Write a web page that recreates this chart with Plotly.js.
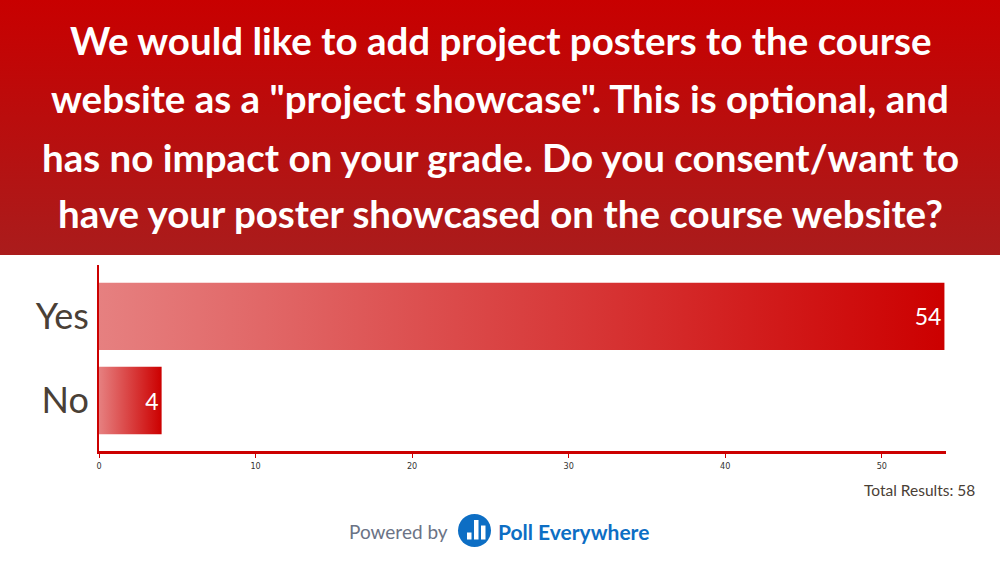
<!DOCTYPE html>
<html>
<head>
<meta charset="utf-8">
<script src="https://cdn.plot.ly/plotly-3.0.1.min.js"></script>
<style>
  html, body { margin: 0; padding: 0; background: #ffffff; }
  #chart {
    width: 1000px; height: 562px;
    background: linear-gradient(to bottom, #c80000 0px, #aa1c1c 255px) 0 0 / 100% 255px no-repeat, #ffffff;
  }
</style>
</head>
<body>
<div id="chart"></div>
<script>
// ---- Data ----
const categories = ['Yes', 'No'];
const values = [54, 4];
const totalResults = 58;
const titleLines = [
  'We would like to add project posters to the course',
  'website as a "project showcase". This is optional, and',
  'has no impact on your grade. Do you consent/want to',
  'have your poster showcased on the course website?'
];
const xTickVals = [0, 10, 20, 30, 40, 50];

// ---- Layout helpers (pixel -> paper) ----
const W = 1000, H = 562;
const M = { l: 99, r: 54, t: 265, b: 111 };
const PW = W - M.l - M.r, PH = H - M.t - M.b;
const px = x => (x - M.l) / PW;
const py = y => (H - M.b - y) / PH;

const titleY = [40, 98, 157, 213];
const titleFont = { family: 'Lato, "Open Sans", sans-serif', size: 38.5, color: '#ffffff', weight: 700 };

const annotations = titleLines.map((t, i) => ({
  text: t, xref: 'paper', yref: 'paper', x: px(500), y: py(titleY[i]),
  xanchor: 'center', yanchor: 'middle', showarrow: false, font: titleFont
}));

annotations.push({
  text: 'Total Results: ' + totalResults, xref: 'paper', yref: 'paper',
  x: px(977), y: py(490), xanchor: 'right', yanchor: 'middle', showarrow: false,
  font: { family: 'Lato, "Open Sans", sans-serif', size: 15.5, color: '#4a4036' }
});
annotations.push({
  text: 'Powered by', xref: 'paper', yref: 'paper',
  x: px(450), y: py(531), xanchor: 'right', yanchor: 'middle', showarrow: false,
  font: { family: 'Lato, "Open Sans", sans-serif', size: 19, color: '#6b7385' }
});
annotations.push({
  text: '<b>Poll Everywhere</b>', xref: 'paper', yref: 'paper',
  x: px(496), y: py(531), xanchor: 'left', yanchor: 'middle', showarrow: false,
  font: { family: 'Lato, "Open Sans", sans-serif', size: 21, color: '#0d6ec4', weight: 900 }
});

const shapes = [
  { type: 'circle', xref: 'paper', yref: 'paper', x0: px(458), x1: px(491), y0: py(547), y1: py(514),
    fillcolor: '#0d6ec4', line: { width: 0 } },
  { type: 'rect', xref: 'paper', yref: 'paper', x0: px(467), x1: px(471.5), y0: py(539.5), y1: py(532.5),
    fillcolor: '#ffffff', line: { width: 0 } },
  { type: 'rect', xref: 'paper', yref: 'paper', x0: px(474), x1: px(478.5), y0: py(539.5), y1: py(520),
    fillcolor: '#ffffff', line: { width: 0 } },
  { type: 'rect', xref: 'paper', yref: 'paper', x0: px(481), x1: px(485.5), y0: py(539.5), y1: py(525.5),
    fillcolor: '#ffffff', line: { width: 0 } }
];

const trace = {
  type: 'bar', orientation: 'h',
  y: categories, x: values,
  width: 0.8,
  marker: { color: '#cc0000', line: { width: 0 } },
  text: values.map(String),
  textposition: 'inside', insidetextanchor: 'end', constraintext: 'none',
  textfont: { family: 'Lato, "Open Sans", sans-serif', size: 23, color: '#ffffff' },
  hoverinfo: 'none'
};

const layout = {
  width: W, height: H,
  margin: M,
  paper_bgcolor: 'rgba(0,0,0,0)',
  plot_bgcolor: 'rgba(0,0,0,0)',
  showlegend: false,
  xaxis: {
    range: [0, 54.1], tickvals: xTickVals, showgrid: false, zeroline: false,
    showline: true, linecolor: '#cc0000', linewidth: 3,
    ticks: 'outside', ticklen: 4, tickwidth: 1, tickcolor: '#cc0000',
    tickfont: { family: '"Liberation Sans Narrow", "DejaVu Sans Condensed", sans-serif', size: 9, color: '#333333' },
    fixedrange: true
  },
  yaxis: {
    type: 'category', categoryorder: 'array', categoryarray: ['No', 'Yes'],
    range: [-0.6, 1.61], showgrid: false, zeroline: false,
    showline: true, linecolor: '#cc0000', linewidth: 2,
    ticks: '', ticklabelstandoff: 1,
    tickfont: { family: 'Lato, "Open Sans", sans-serif', size: 36, color: '#4a4036' },
    fixedrange: true
  },
  annotations: annotations,
  shapes: shapes
};

Plotly.newPlot('chart', [trace], layout, { displayModeBar: false, staticPlot: true }).then(gd => {
  const svg = gd.querySelector('svg.main-svg');
  const ns = 'http://www.w3.org/2000/svg';
  let defs = svg.querySelector('defs');
  if (!defs) { defs = document.createElementNS(ns, 'defs'); svg.insertBefore(defs, svg.firstChild); }
  const g = document.createElementNS(ns, 'linearGradient');
  g.setAttribute('id', 'barGrad');
  g.setAttribute('x1', '0'); g.setAttribute('x2', '1'); g.setAttribute('y1', '0'); g.setAttribute('y2', '0');
  [['0', '#e68080'], ['1', '#cc0000']].forEach(([o, c]) => {
    const s = document.createElementNS(ns, 'stop');
    s.setAttribute('offset', o); s.setAttribute('stop-color', c);
    g.appendChild(s);
  });
  defs.appendChild(g);
  gd.querySelectorAll('.barlayer .point path').forEach(p => { p.style.fill = 'url(#barGrad)'; });
});
</script>
</body>
</html>
